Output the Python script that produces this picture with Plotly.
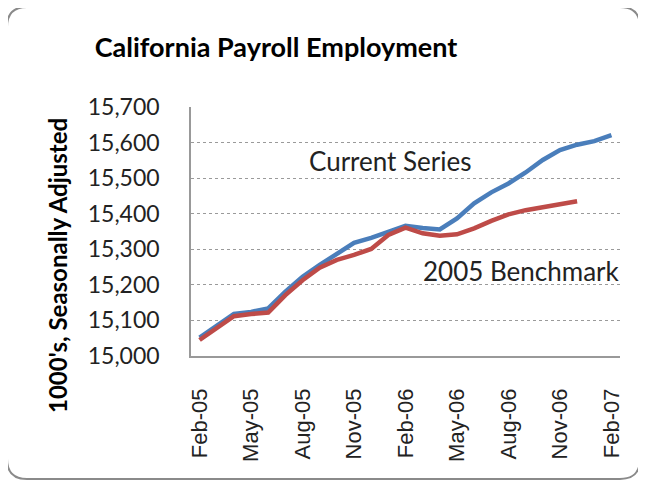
import plotly.graph_objects as go

months = ["Feb-05","Mar-05","Apr-05","May-05","Jun-05","Jul-05","Aug-05","Sep-05","Oct-05",
          "Nov-05","Dec-05","Jan-06","Feb-06","Mar-06","Apr-06","May-06","Jun-06","Jul-06",
          "Aug-06","Sep-06","Oct-06","Nov-06","Dec-06","Jan-07","Feb-07"]
current_series = [15052,15084,15118,15124,15134,15181,15223,15256,15286,15318,15332,15349,
                  15366,15360,15356,15387,15429,15460,15485,15516,15551,15579,15594,15604,15621]
benchmark_2005 = [15045,15078,15112,15118,15122,15171,15213,15248,15270,15284,15301,15340,
                  15361,15345,15338,15342,15359,15380,15398,15410,15418,15429,15435]
tick_labels = ["Feb-05","May-05","Aug-05","Nov-05","Feb-06","May-06","Aug-06","Nov-06","Feb-07"]
y_ticks = [15000,15100,15200,15300,15400,15500,15600,15700]

OFF = 8  # default page body margin
W, H = 646 - OFF, 486 - OFF
L, T = 191 - OFF, 107 - OFF
R = W - (620 - OFF)
B = H - (356 - OFF)
pw, ph = W - L - R, H - T - B

def px(x):  # screen pixel -> paper x
    return (x - OFF - L) / pw

def py(y):  # screen pixel -> paper y
    return 1 - (y - OFF - T) / ph

fig = go.Figure()
fig.add_trace(go.Scatter(x=months, y=current_series, mode="lines",
                         line=dict(color="#4A7EBB", width=4.5), name="Current Series"))
fig.add_trace(go.Scatter(x=months[:len(benchmark_2005)], y=benchmark_2005, mode="lines",
                         line=dict(color="#BE4B48", width=4.5), name="2005 Benchmark"))

# rounded border
x0, y0, x1, y1, r = 7, 7, 640, 479, 20
path = (f"M {px(x0+r)},{py(y0)} L {px(x1-r)},{py(y0)} Q {px(x1)},{py(y0)} {px(x1)},{py(y0+r)} "
        f"L {px(x1)},{py(y1-r)} Q {px(x1)},{py(y1)} {px(x1-r)},{py(y1)} "
        f"L {px(x0+r)},{py(y1)} Q {px(x0)},{py(y1)} {px(x0)},{py(y1-r)} "
        f"L {px(x0)},{py(y0+r)} Q {px(x0)},{py(y0)} {px(x0+r)},{py(y0)} Z")

fig.update_layout(
    width=W, height=H,
    margin=dict(l=L, r=R, t=T, b=B, autoexpand=False),
    paper_bgcolor="white", plot_bgcolor="white",
    showlegend=False,
    title=dict(text="<b>California Payroll Employment</b>", x=px(276), xref="paper",
               xanchor="center", y=1 - (48 - OFF) / H, yref="container", yanchor="middle",
               font=dict(family="Lato", size=27, color="black")),
    shapes=[dict(type="path", path=path, xref="paper", yref="paper",
                 line=dict(color="#8a8a8a", width=2), fillcolor="rgba(0,0,0,0)", layer="below")],
    annotations=[
        dict(text="<b>1000's, Seasonally Adjusted</b>", x=px(57), y=py(266), xref="paper", yref="paper",
             textangle=-90, showarrow=False, xanchor="center", yanchor="middle",
             font=dict(family="Lato", size=24, color="black")),
        dict(text="Current Series", x=px(390), y=py(161), xref="paper", yref="paper",
             showarrow=False, xanchor="center", yanchor="middle",
             font=dict(family="Lato", size=26, color="#222")),
        dict(text="2005 Benchmark", x=px(521), y=py(271), xref="paper", yref="paper",
             showarrow=False, xanchor="center", yanchor="middle",
             font=dict(family="Lato", size=26, color="#222")),
    ],
)
fig.update_xaxes(type="category", categoryorder="array", categoryarray=months,
                 range=[-0.5, len(months) - 0.5],
                 tickmode="array", tickvals=tick_labels, ticktext=tick_labels, tickangle=-90,
                 showline=True, linecolor="#999999", linewidth=1.5, showgrid=False,
                 ticks="outside", ticklen=22, tickcolor="rgba(0,0,0,0)",
                 tickfont=dict(family="Liberation Sans", size=22, color="#222"), zeroline=False)
fig.update_yaxes(range=[15000, 15700], tickmode="array", tickvals=y_ticks,
                 ticktext=[f"{v:,}" for v in y_ticks],
                 showline=True, linecolor="#999999", linewidth=1.5,
                 showgrid=True, gridcolor="#9a9a9a", griddash="dot", gridwidth=1,
                 ticks="outside", ticklen=25, tickcolor="rgba(0,0,0,0)",
                 tickfont=dict(family="Lato", size=23, color="#222"), zeroline=False)

fig.write_html("out.html")
